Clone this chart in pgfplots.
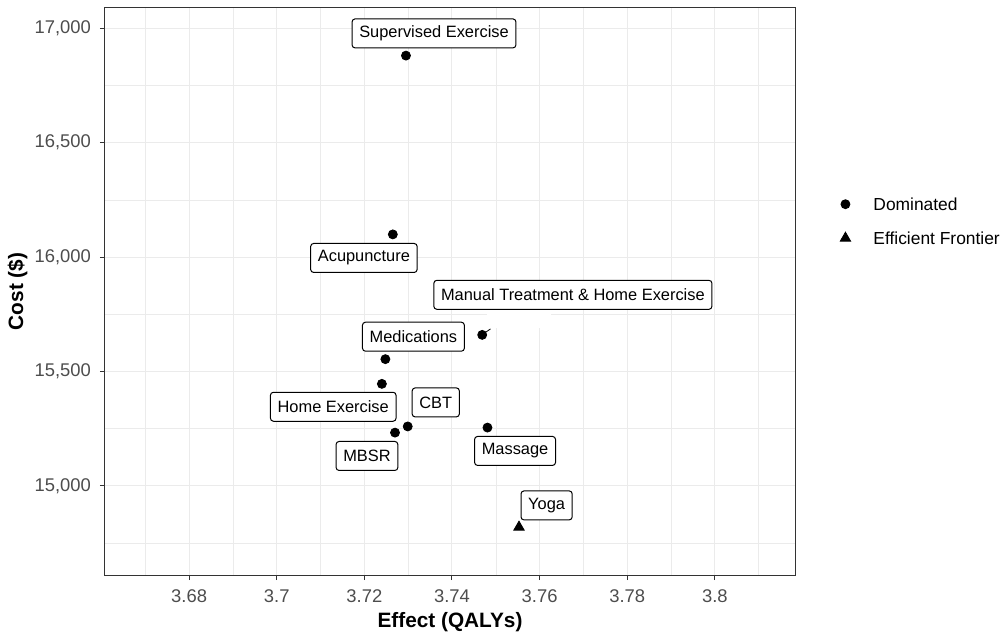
\documentclass[border=0pt]{standalone}
\usepackage{pgfplots}
\pgfplotsset{compat=1.18}
\usepackage{fontspec}
\setmainfont{Liberation Sans}

\definecolor{gridgray}{HTML}{EBEBEB}
\definecolor{framegray}{HTML}{333333}
\definecolor{ticktext}{HTML}{4D4D4D}

\tikzset{
  replabel/.style={draw=black, line width=0.5pt, fill=white, rounded corners=1.5pt,
    inner xsep=3.6pt, inner ysep=0pt, minimum height=14.5pt,
    font=\fontsize{8.2}{9}\selectfont, text=black}
}

\begin{document}
\begin{tikzpicture}
\useasboundingbox (-52.5pt,-31.5pt) rectangle (449pt,287.5pt);
\begin{axis}[
  at={(0pt,0pt)}, anchor=south west,
  scale only axis, width=345pt, height=283.5pt,
  xmin=3.6608, xmax=3.8183, ymin=14611, ymax=17088,
  xtick={3.68,3.70,3.72,3.74,3.76,3.78,3.80},
  xticklabels={3.68,3.7,3.72,3.74,3.76,3.78,3.8},
  ytick={15000,15500,16000,16500,17000},
  yticklabels={{15,000},{15,500},{16,000},{16,500},{17,000}},
  minor xtick={3.67,3.69,3.71,3.73,3.75,3.77,3.79,3.81},
  minor ytick={14750,15250,15750,16250,16750},
  grid=both,
  major grid style={gridgray, line width=0.5pt},
  minor grid style={gridgray, line width=0.25pt},
  axis line style={framegray, line width=0.5pt},
  tick align=outside, tick pos=left,
  major tick length=2.5pt, minor tick length=0pt,
  tick style={framegray, line width=0.5pt},
  ticklabel style={font=\fontsize{9.2}{10}\selectfont, text=ticktext},
  xticklabel style={anchor=center, yshift=-8.2pt},
  yticklabel style={anchor=east, xshift=-1pt},
  xlabel={Effect (QALYs)}, ylabel={Cost (\$)},
  label style={font=\bfseries\fontsize{10.4}{12}\selectfont},
  xlabel style={at={(axis description cs:0.5,-0.083)}, anchor=center},
  ylabel style={at={(axis description cs:-0.1268,0.5)}, anchor=center},
  legend style={at={(1.065,0.624)}, anchor=west, draw=none, fill=none,
    inner sep=0pt, column sep=11.4pt, row sep=10.8pt,
    nodes={inner sep=0pt, text height=6.2pt, text depth=0pt,
      font=\fontsize{8.7}{10}\selectfont}},
  legend cell align=left,
  legend image code/.code={\draw[#1] plot coordinates {(0pt,0pt)};},
]
% dominated strategies
\addplot[only marks, mark=*, mark size=2.25pt, black] table {
x y
3.7295 16880
3.7265 16099
3.7469 15660
3.7248 15554
3.7240 15446
3.7299 15260
3.7270 15233
3.7481 15255
};
\addlegendentry{Dominated}
% strategy on the efficient frontier
\addplot[only marks, mark=triangle*, mark size=3pt, black] table {
x y
3.7553 14820
};
\addlegendentry{Efficient Frontier}

% repelled labels
\fill[white] (axis cs:3.7479,15768) rectangle (axis cs:3.7627,15688);
\draw[black, line width=0.4pt] (axis cs:3.7472,15665) -- (axis cs:3.7488,15686);
\node[replabel] at (axis cs:3.7359,16977) {Supervised Exercise};
\node[replabel] at (axis cs:3.7199,15996) {Acupuncture};
\node[replabel] at (axis cs:3.7676,15835) {Manual Treatment \& Home Exercise};
\node[replabel] at (axis cs:3.7312,15652) {Medications};
\node[replabel] at (axis cs:3.7129,15346) {Home Exercise};
\node[replabel] at (axis cs:3.7363,15365) {CBT};
\node[replabel] at (axis cs:3.7206,15131) {MBSR};
\node[replabel] at (axis cs:3.7544,15153) {Massage};
\node[replabel] at (axis cs:3.7616,14915) {Yoga};
\end{axis}
\end{tikzpicture}
\end{document}
